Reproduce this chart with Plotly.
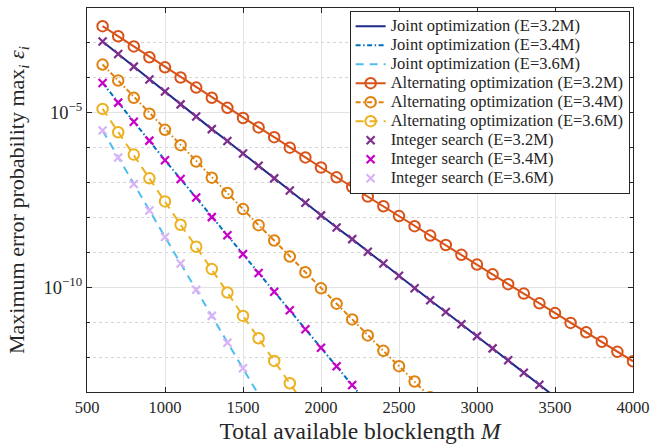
import numpy as np
import plotly.graph_objects as go

# Blocklength values (x axis)
M_all = list(range(600, 4001, 100))

# log10 of maximum error probability
alt_32_log10 = [-2.52, -2.81, -3.10, -3.41, -3.70, -3.99, -4.28, -4.57, -4.86, -5.15,
                -5.42, -5.70, -6.00, -6.28, -6.57, -6.85, -7.13, -7.40, -7.68, -7.96,
                -8.25, -8.52, -8.79, -9.07, -9.35, -9.63, -9.91, -10.18, -10.46, -10.74,
                -11.02, -11.29, -11.56, -11.85, -12.12]
joint_32_log10 = [-2.96, -3.32, -3.68, -4.05, -4.39, -4.76, -5.11, -5.47, -5.81, -6.17,
                  -6.52, -6.88, -7.23, -7.58, -7.94, -8.29, -8.62, -8.98, -9.32, -9.67,
                  -10.03, -10.37, -10.71, -11.06, -11.40, -11.75, -12.09, -12.45, -12.79, -13.14]
alt_34_log10 = [-3.62, -4.08, -4.57, -5.03, -5.49, -5.93, -6.40, -6.86, -7.30, -7.76,
                -8.22, -8.66, -9.12, -9.57, -10.03, -10.47, -10.92, -11.38, -11.82, -12.26,
                -12.70, -13.15]
joint_34_log10 = [-4.15, -4.71, -5.26, -5.80, -6.36, -6.90, -7.43, -7.99, -8.51, -9.05,
                  -9.59, -10.13, -10.66, -11.20, -11.73, -12.26, -12.80, -13.34]
alt_36_log10 = [-4.89, -5.56, -6.20, -6.88, -7.54, -8.21, -8.84, -9.48, -10.15, -10.82,
                -11.46, -12.11, -12.75, -13.40]
joint_36_log10 = [-5.51, -6.28, -7.04, -7.80, -8.56, -9.32, -10.07, -10.82, -11.59, -12.32,
                  -13.08]
int_32_log10 = joint_32_log10[:-1]
int_34_log10 = joint_34_log10[:-1]
int_36_log10 = joint_36_log10[:-1]

x_ticks = [500, 1000, 1500, 2000, 2500, 3000, 3500, 4000]
y_major = [1e-10, 1e-5]
y_major_text = ["10<sup>−10</sup>", "10<sup>−5</sup>"]
y_minor = [10.0 ** k for k in range(-13, -1)]

FONT = "Liberation Serif, DejaVu Serif, serif"
TXT = "#262626"


def vals(lst):
    return [10.0 ** v for v in lst]


def xs(lst):
    return M_all[:len(lst)]


def legname(s):
    return '<span style="font-size:16.5px">' + s + '</span>'


fig = go.Figure()

DASHDOT = "5px,2.5px,1.5px,2.5px"
DASH = "8px,6px"

joint_specs = [
    ("Joint optimization (E=3.2M)", joint_32_log10, "#1f2a8a", "solid"),
    ("Joint optimization (E=3.4M)", joint_34_log10, "#0072BD", DASHDOT),
    ("Joint optimization (E=3.6M)", joint_36_log10, "#4DBEEE", DASH),
]
for name, data, col, dash in joint_specs:
    fig.add_trace(go.Scatter(x=xs(data), y=vals(data), mode="lines", name=legname(name),
                             line=dict(color=col, width=2, dash=dash)))

alt_specs = [
    ("Alternating optimization (E=3.2M)", alt_32_log10, "#D95319", "solid"),
    ("Alternating optimization (E=3.4M)", alt_34_log10, "#E0820E", DASHDOT),
    ("Alternating optimization (E=3.6M)", alt_36_log10, "#EDB120", DASH),
]
for name, data, col, dash in alt_specs:
    fig.add_trace(go.Scatter(x=xs(data), y=vals(data), mode="lines+markers", name=legname(name),
                             line=dict(color=col, width=2, dash=dash),
                             marker=dict(symbol="circle-open", size=10.5, color=col,
                                         line=dict(width=2, color=col))))

int_specs = [
    ("Integer search (E=3.2M)", int_32_log10, "#7E2F8E"),
    ("Integer search (E=3.4M)", int_34_log10, "#C800C8"),
    ("Integer search (E=3.6M)", int_36_log10, "#D9B3F5"),
]
for name, data, col in int_specs:
    fig.add_trace(go.Scatter(x=xs(data), y=vals(data), mode="markers", name=legname(name),
                             marker=dict(symbol="x-thin", size=8, color=col,
                                         line=dict(width=2.2, color=col))))

axis_col = "#262626"
fig.update_layout(
    width=657, height=446,
    margin=dict(l=87, r=19, t=7, b=50),
    paper_bgcolor="white", plot_bgcolor="white",
    font=dict(family=FONT, size=16, color=TXT),
    showlegend=True,
    legend=dict(x=0.481, y=0.993, xanchor="left", yanchor="top",
                bgcolor="white", bordercolor=axis_col, borderwidth=1,
                font=dict(family=FONT, size=11.8, color=TXT),
                tracegroupgap=0, itemwidth=30),
    xaxis=dict(range=[500, 4000], tickvals=x_ticks, ticks="inside", ticklen=5,
               tickcolor=axis_col, showline=True, linecolor=axis_col, linewidth=1,
               mirror="ticks", showgrid=True, gridcolor="#e3e3e3", gridwidth=1,
               zeroline=False, tickfont=dict(family=FONT, size=16.5, color=TXT),
               title=dict(text="Total available blocklength <i>M</i>",
                          font=dict(family=FONT, size=23.5, color=TXT), standoff=6)),
    yaxis=dict(type="log", range=[-13, -2], tickmode="array", tickvals=y_major,
               ticktext=y_major_text, ticks="inside", ticklen=5, tickcolor=axis_col,
               showline=True, linecolor=axis_col, linewidth=1, mirror="ticks",
               showgrid=True, gridcolor="#e3e3e3", gridwidth=1.2, zeroline=False,
               tickfont=dict(family=FONT, size=18.5, color=TXT),
               minor=dict(tickmode="array", tickvals=y_minor, ticks="inside", ticklen=3,
                          tickcolor=axis_col, showgrid=True, gridcolor="#d6d6d6",
                          griddash="dot", gridwidth=1),
               title=dict(text="Maximum error probability max<sub><i>i</i></sub> <i>ε</i><sub><i>i</i></sub>",
                          font=dict(family=FONT, size=22, color=TXT), standoff=12)),
)

fig.write_html("out.html")
